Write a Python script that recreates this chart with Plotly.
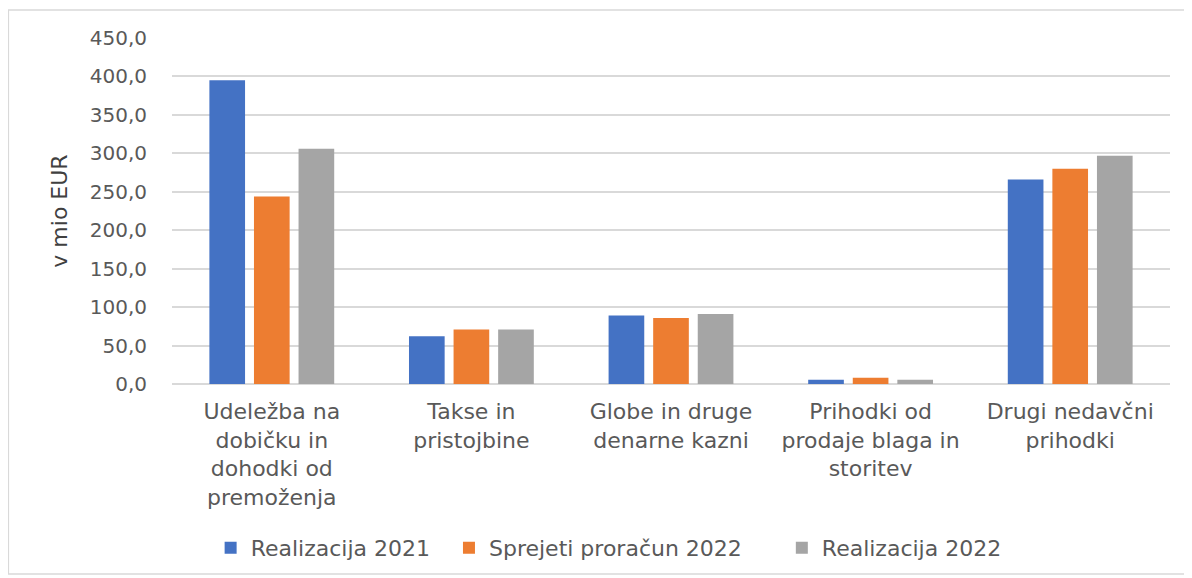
import plotly.graph_objects as go

categories = [
    "Udeležba na<br>dobičku in<br>dohodki od<br>premoženja",
    "Takse in<br>pristojbine",
    "Globe in druge<br>denarne kazni",
    "Prihodki od<br>prodaje blaga in<br>storitev",
    "Drugi nedavčni<br>prihodki",
]
realizacija_2021 = [395.0, 62.0, 89.0, 5.5, 266.0]
sprejeti_2022 = [244.0, 71.0, 86.0, 8.0, 280.0]
realizacija_2022 = [306.0, 71.0, 91.0, 5.5, 297.0]
series_names = ["Realizacija 2021", "Sprejeti proračun 2022", "Realizacija 2022"]
colors = ["#4472C4", "#ED7D31", "#A5A5A5"]
y_ticks = [0, 50, 100, 150, 200, 250, 300, 350, 400, 450]

legend_pad = ["\u00a0\u00a0", "\u00a0\u00a0\u00a0\u00a0\u00a0", ""]

fig = go.Figure()
for name, vals, c, pad in zip(series_names, [realizacija_2021, sprejeti_2022, realizacija_2022], colors, legend_pad):
    fig.add_trace(go.Bar(x=categories, y=vals, name=name + pad, marker=dict(color=c, line=dict(width=0))))

font_family = "'DejaVu Sans', sans-serif"
fig.update_layout(
    width=1192, height=578,
    margin=dict(l=164, r=30, t=30, b=202, autoexpand=False),
    paper_bgcolor="white", plot_bgcolor="white",
    barmode="group", bargap=0.33, bargroupgap=0.2,
    separators=", ",
    font=dict(family=font_family, size=20, color="#595959"),
    legend=dict(orientation="h", x=0.4375, y=-0.474, xanchor="center", yanchor="middle",
                font=dict(size=22, color="#595959"), itemwidth=30, traceorder="normal"),
    xaxis=dict(showgrid=False, ticks="", ticklabelstandoff=12, showline=False, automargin=False,
               tickfont=dict(size=22, color="#595959")),
    yaxis=dict(range=[0, 450], tickvals=y_ticks, tickformat=".1f", showgrid=True, automargin=False,
               gridcolor="#D9D9D9", gridwidth=2, zeroline=True, zerolinecolor="#D9D9D9",
               zerolinewidth=2, ticks="", ticklabelstandoff=24,
               tickfont=dict(size=20, color="#595959"),
               title=dict(text="v mio EUR", font=dict(size=22, color="#404040"), standoff=16)),
    shapes=[dict(type="rect", xref="paper", yref="paper", x0=-0.164, x1=1.018, y0=-0.549, y1=1.081,
                 line=dict(color="#D9D9D9", width=1.5), fillcolor="rgba(0,0,0,0)", layer="below")],
)
fig.write_html("out.html")
